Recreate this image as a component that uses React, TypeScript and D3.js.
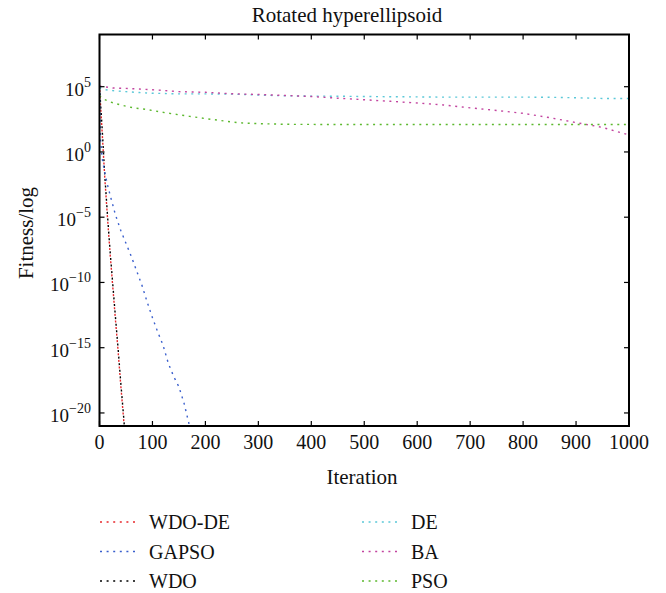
import React from 'react';
import * as d3 from 'd3';

const W = 666;
const H = 593;
const FONT = 'Liberation Serif, DejaVu Serif, serif';

// axis ticks
const xTickValues = [0, 100, 200, 300, 400, 500, 600, 700, 800, 900, 1000];
const yTickExponents = [5, 0, -5, -10, -15, -20];

// series (iteration, log10 fitness)
const wdoDeIter = [0, 5, 10, 15, 20, 25, 30, 35, 40, 45, 50];
const wdoDeLog = [5, 1.5, -2, -5, -7.8, -10.3, -12.8, -15.2, -17.8, -20.2, -23];

const gapsoIter = [0, 2, 5, 10, 15, 20, 30, 40, 50, 60, 70, 80, 90, 100, 110, 120, 130, 140, 150, 160, 170, 180];
const gapsoLog = [5, 1, -0.5, -1.6, -2.5, -3.3, -4.8, -6, -7, -8, -9.1, -10.2, -11.5, -12.7, -13.8, -14.8, -16.2, -17.2, -18, -19.3, -21, -22.5];

const wdoIter = [0, 5, 10, 15, 20, 25, 30, 35, 40, 45, 50];
const wdoLog = [5, 1.8, -1.8, -4.8, -7.6, -10.1, -12.6, -15, -17.6, -20, -22.6];

const deIter = [0, 10, 25, 50, 75, 100, 150, 200, 250, 300, 350, 400, 450, 500, 550, 600, 650, 700, 750, 800, 850, 900, 950, 1000];
const deLog = [4.95, 4.77, 4.7, 4.62, 4.55, 4.5, 4.45, 4.45, 4.43, 4.36, 4.3, 4.28, 4.27, 4.25, 4.23, 4.22, 4.2, 4.2, 4.2, 4.2, 4.19, 4.15, 4.1, 4.1];

const baIter = [0, 25, 50, 100, 150, 200, 250, 300, 350, 400, 450, 500, 550, 600, 650, 700, 750, 800, 850, 900, 950, 1000];
const baLog = [5.05, 4.9, 4.87, 4.77, 4.62, 4.57, 4.46, 4.4, 4.33, 4.25, 4.12, 4.0, 3.88, 3.75, 3.6, 3.38, 3.18, 2.96, 2.63, 2.25, 1.88, 1.3];

const psoIter = [0, 7, 20, 40, 65, 90, 125, 170, 205, 240, 265, 300, 350, 400, 500, 600, 700, 800, 900, 1000];
const psoLog = [4.3, 4.06, 3.83, 3.6, 3.37, 3.25, 3.0, 2.73, 2.53, 2.35, 2.23, 2.17, 2.12, 2.11, 2.1, 2.1, 2.1, 2.1, 2.1, 2.1];

const seriesNames = ['WDO-DE', 'GAPSO', 'WDO', 'DE', 'BA', 'PSO'];
const seriesColors = ['#e8282d', '#3a5fcd', '#000000', '#5bc8d8', '#c2449f', '#5cb82e'];
const seriesIters = [wdoDeIter, gapsoIter, wdoIter, deIter, baIter, psoIter];
const seriesLogs = [wdoDeLog, gapsoLog, wdoLog, deLog, baLog, psoLog];
const drawOrder = [2, 1, 0, 3, 4, 5];

const PL = 99.5, PR = 629, PT = 34.5, PB = 426;
const DASH = '2,4.6';

export default function App() {
  const x = d3.scaleLinear().domain([0, 1000]).range([PL, PR]);
  const y = d3.scaleLog().domain([1e-21, 1e9]).range([PB, PT]);
  const line = d3.line<[number, number]>().x(d => x(d[0])).y(d => y(d[1]));

  const series = seriesNames.map((name, i) => ({
    name,
    color: seriesColors[i],
    pts: seriesIters[i].map((it, j) => [it, Math.pow(10, seriesLogs[i][j])] as [number, number]),
  }));

  const tickLen = 5;
  const ts = { fontFamily: FONT };
  return (
    <svg width={W} height={H} style={{ position: 'absolute', left: 0, top: 0, background: '#fff', fontFamily: FONT }}>
      <defs>
        <clipPath id="plotclip">
          <rect x={PL} y={PT} width={PR - PL} height={PB - PT} />
        </clipPath>
      </defs>
      <rect x={0} y={0} width={W} height={H} fill="#fff" />
      <text x={347} y={22} textAnchor="middle" fontSize={21} fill="#111" style={ts}>Rotated hyperellipsoid</text>

      <g clipPath="url(#plotclip)">
        {drawOrder.map(i => {
          const s = series[i];
          return (
            <path key={s.name} d={line(s.pts) || ''} fill="none" stroke={s.color} strokeWidth={1.4}
              strokeDasharray={DASH} strokeDashoffset={i === 0 ? 3.3 : 0} />
          );
        })}
      </g>

      {xTickValues.map(v => (
        <g key={'x' + v}>
          <line x1={x(v)} x2={x(v)} y1={PB} y2={PB - tickLen} stroke="#000" strokeWidth={1.2} />
          <line x1={x(v)} x2={x(v)} y1={PT} y2={PT + tickLen} stroke="#000" strokeWidth={1.2} />
          <text x={x(v)} y={449} textAnchor="middle" fontSize={20} fill="#111" style={ts}>{v}</text>
        </g>
      ))}
      {yTickExponents.map(e => {
        const yy = y(Math.pow(10, e));
        return (
          <g key={'y' + e}>
            <line x1={PL} x2={PL + tickLen} y1={yy} y2={yy} stroke="#000" strokeWidth={1.2} />
            <line x1={PR} x2={PR - tickLen} y1={yy} y2={yy} stroke="#000" strokeWidth={1.2} />
            <text x={91} y={yy + 9} textAnchor="end" fontSize={19} fill="#111" style={ts}>
              10<tspan dy={-9} fontSize={14}>{e < 0 ? '\u2212' + Math.abs(e) : String(e)}</tspan>
            </text>
          </g>
        );
      })}

      <rect x={PL} y={PT} width={PR - PL} height={PB - PT} fill="none" stroke="#000" strokeWidth={2} />

      <text x={362} y={484} textAnchor="middle" fontSize={21} fill="#111" style={ts}>Iteration</text>
      <text transform={`translate(33,${233}) rotate(-90)`} textAnchor="middle" fontSize={21} fill="#111" style={ts}>Fitness/log</text>

      {series.map((s, i) => {
        const col = i < 3 ? 0 : 1;
        const row = i % 3;
        const sx = col === 0 ? 100 : 362;
        const base = 529 + row * 29.5;
        return (
          <g key={'lg' + s.name}>
            <line x1={sx} x2={sx + 36} y1={base - 7} y2={base - 7} stroke={s.color} strokeWidth={1.4} strokeDasharray={DASH} />
            <text x={sx + 49} y={base} fontSize={20} fill="#111" style={ts}>{s.name}</text>
          </g>
        );
      })}
    </svg>
  );
}
